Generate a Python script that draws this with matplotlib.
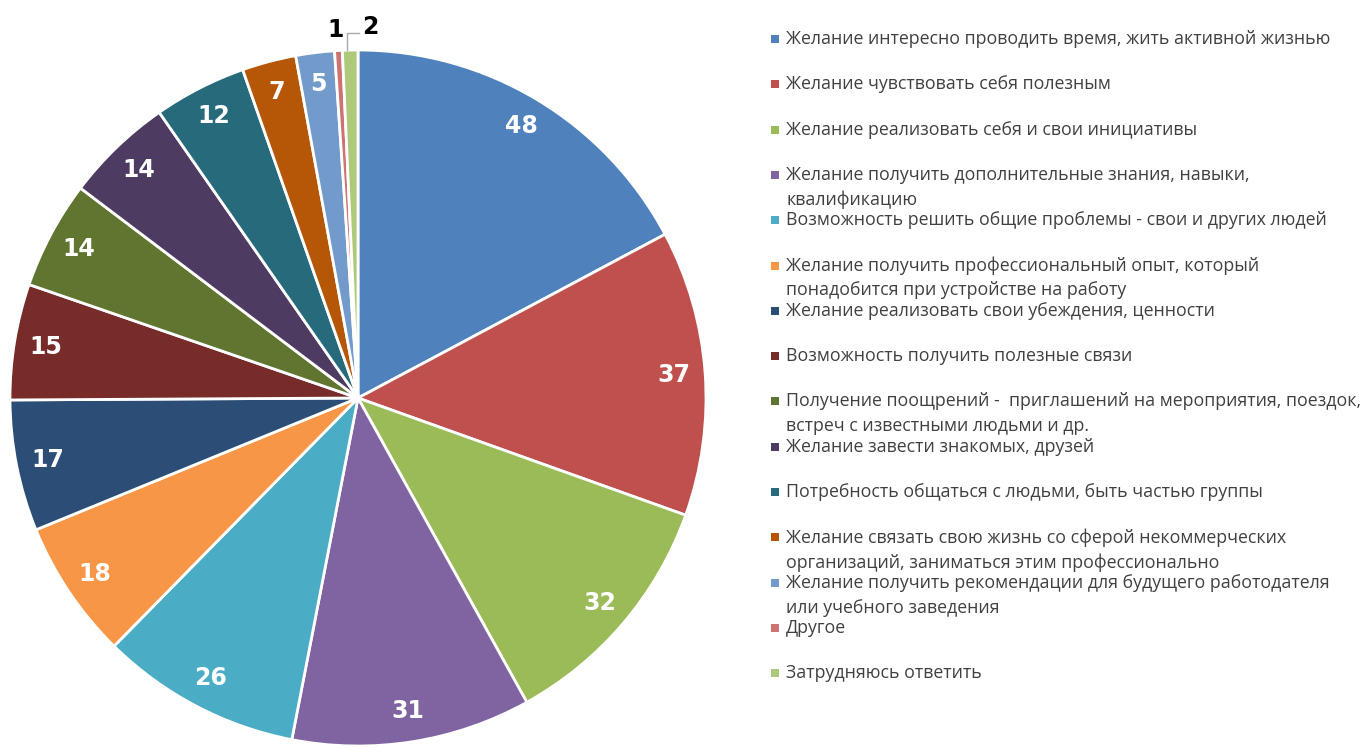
import numpy as np
import matplotlib
matplotlib.use('Agg')
import matplotlib.pyplot as plt

# Data
categories = [
    "Желание интересно проводить время, жить активной жизнью",
    "Желание чувствовать себя полезным",
    "Желание реализовать себя и свои инициативы",
    "Желание получить дополнительные знания, навыки,\nквалификацию",
    "Возможность решить общие проблемы - свои и других людей",
    "Желание получить профессиональный опыт, который\nпонадобится при устройстве на работу",
    "Желание реализовать свои убеждения, ценности",
    "Возможность получить полезные связи",
    "Получение поощрений -  приглашений на мероприятия, поездок,\nвстреч с известными людьми и др.",
    "Желание завести знакомых, друзей",
    "Потребность общаться с людьми, быть частью группы",
    "Желание связать свою жизнь со сферой некоммерческих\nорганизаций, заниматься этим профессионально",
    "Желание получить рекомендации для будущего работодателя\nили учебного заведения",
    "Другое",
    "Затрудняюсь ответить",
]
values = [48, 37, 32, 31, 26, 18, 17, 15, 14, 14, 12, 7, 5, 1, 2]
colors = ['#4F81BD', '#C0504D', '#9BBB59', '#8064A2', '#4BACC6', '#F79646',
          '#2C4D75', '#772C2A', '#5F7530', '#4D3B62', '#276A7C', '#B65708',
          '#729ACA', '#CD7371', '#AFC97A']

plt.rcParams['font.family'] = ['Open Sans', 'DejaVu Sans']

W, H = 1368, 747
fig = plt.figure(figsize=(W / 100, H / 100), dpi=100)

# pie axes: center (358, 398) px, radius 348 px
cx, cy, r = 358, 398, 348
ax = fig.add_axes([(cx - r) / W, (H - cy - r) / H, 2 * r / W, 2 * r / H])
wedges, _ = ax.pie(values, colors=colors, startangle=90, counterclock=False,
                   radius=1, wedgeprops=dict(edgecolor='white', linewidth=2))
ax.set_xlim(-1, 1)
ax.set_ylim(-1, 1)
ax.set_aspect('equal')
ax.axis('off')

label_font = dict(fontsize=17, fontweight='bold', family='DejaVu Sans')

for w, v in zip(wedges, values):
    ang = np.deg2rad((w.theta1 + w.theta2) / 2)
    if v >= 5:
        d = 0.91
        ax.text(d * np.cos(ang), d * np.sin(ang), str(v), ha='center', va='center',
                color='white', **label_font)

# small slices labelled outside
small = wedges[-2]
ang = np.deg2rad((small.theta1 + small.theta2) / 2)
ax.text(1.06 * np.cos(ang) - 0.005, 1.057, str(values[-2]), ha='center', va='center',
        color='black', clip_on=False, **label_font)
last = wedges[-1]
ang = np.deg2rad((last.theta1 + last.theta2) / 2)
x0, y0 = np.cos(ang), np.sin(ang)
ax.plot([x0 - 0.008, x0 - 0.008, x0 + 0.025], [y0, 1.05, 1.05], color='#aaaaaa',
        linewidth=1, clip_on=False)
ax.text(x0 + 0.058, 1.067, str(values[-1]), ha='center', va='center',
        color='black', clip_on=False, **label_font)

# legend drawn manually: fixed slot per entry
y_first = 39
step = 45.3
for i, (lab, c) in enumerate(zip(categories, colors)):
    yp = y_first + i * step
    fig.patches.append(plt.Rectangle((771 / W, (H - yp - 4) / H), 8 / W, 8 / H,
                                     transform=fig.transFigure, facecolor=c,
                                     edgecolor='none'))
    for j, ln in enumerate(lab.split('\n')):
        fig.text(786 / W, (H - yp - j * 25) / H, ln, ha='left', va='center',
                 fontsize=12.8, color='#404040')

fig.savefig('out.png', dpi=100)
